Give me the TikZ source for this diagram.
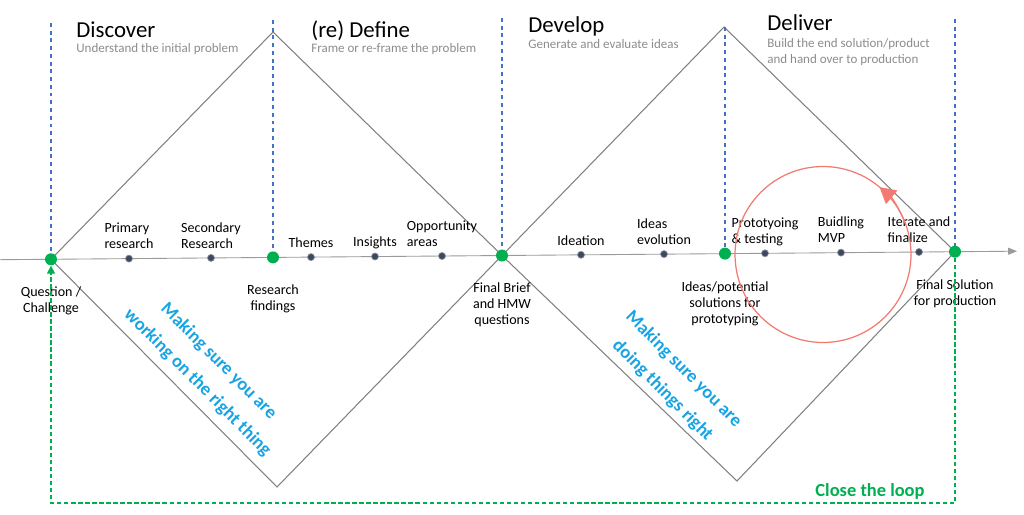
\documentclass[tikz,border=0pt]{standalone}
\usepackage{fontspec}
\setmainfont{Carlito}
\usetikzlibrary{positioning,arrows.meta}
\definecolor{ddgreen}{RGB}{0,176,80}
\definecolor{ddnavy}{RGB}{60,72,92}
\definecolor{ddblue}{RGB}{68,114,196}
\definecolor{ddcyan}{RGB}{24,164,228}
\definecolor{ddred}{RGB}{242,122,112}
\definecolor{ddgray}{RGB}{140,140,140}
\definecolor{ddline}{RGB}{128,128,128}

\begin{document}
\begin{tikzpicture}[
  x=0.02cm, y=-0.02cm,
  milestone/.style={circle,fill=ddgreen,inner sep=0pt,minimum size=2.4mm},
  stepdot/.style={circle,draw=ddnavy!60,fill=ddnavy,line width=0.4pt,inner sep=0pt,minimum size=1.4mm},
  toplabel/.style={align=left,inner sep=0pt,text depth=0pt,font=\fontsize{8}{9.1}\selectfont},
  botlabel/.style={align=center,inner sep=0pt,font=\fontsize{8}{9.1}\selectfont},
  phase/.style={anchor=base west,inner sep=0pt,font=\fontsize{13}{15}\selectfont},
  phasenote/.style={anchor=base west,align=left,inner sep=0pt,text=ddgray,font=\fontsize{7.4}{8.6}\selectfont},
  claim/.style={align=center,text=ddcyan,inner sep=0pt,font=\bfseries\fontsize{10.5}{13.5}\selectfont},
  guide/.style={ddblue,line width=0.6pt,dash pattern=on 2.2pt off 2.2pt},
  diamondline/.style={ddline,line width=0.6pt},
  axis/.style={ddline!80,line width=0.5pt},
  loopline/.style={ddgreen,line width=0.8pt,dash pattern=on 2.5pt off 1.5pt},
  cycleline/.style={ddred,line width=0.7pt}
]
  \useasboundingbox (0,0) rectangle (1024,514);

  \coordinate (pq) at (51,259.3);
  \coordinate (prf) at (273,257.4);
  \coordinate (pfb) at (502,255.5);
  \coordinate (pip) at (725,253.6);
  \coordinate (pfs) at (955,251.7);
  \coordinate (t1) at (273,32);
  \coordinate (b1) at (277,487);
  \coordinate (t2) at (724,27);
  \coordinate (b2) at (737,481);
  \coordinate (g1) at (51,23);
  \coordinate (g2) at (273,20);
  \coordinate (g3) at (502,18);
  \coordinate (g4) at (725,27);
  \coordinate (g5) at (955,19);
  \coordinate (axl) at (0,259.7);
  \coordinate (axr) at (1017,251.2);
  \coordinate (lr) at (955,503);
  \coordinate (ll) at (51,503);
  \coordinate (rc) at (823,254.5);

  \draw[diamondline] (pq) -- (t1) -- (pfb) -- (b1) -- cycle;
  \draw[diamondline] (pfb) -- (t2) -- (pfs) -- (b2) -- cycle;
  \draw[guide] (g1) -- (pq);
  \draw[guide] (g2) -- (prf);
  \draw[guide] (g3) -- (pfb);
  \draw[guide] (g4) -- (pip);
  \draw[guide] (g5) -- (pfs);
  \draw[axis,-{Triangle[length=5pt,width=4pt]}] (axl) -- (axr);

  \node[milestone] (q) at (pq) {};
  \node[milestone] (rf) at (prf) {};
  \node[milestone] (fb) at (pfb) {};
  \node[milestone] (ip) at (pip) {};
  \node[milestone] (fs) at (pfs) {};

  \node[stepdot] (pr) at (129,258.6) {};
  \node[stepdot] (sr) at (211,257.9) {};
  \node[stepdot] (th) at (311,257.1) {};
  \node[stepdot] (ins) at (375,256.5) {};
  \node[stepdot] (oa) at (442,256.0) {};
  \node[stepdot] (id) at (581,254.8) {};
  \node[stepdot] (ev) at (664,254.1) {};
  \node[stepdot] (pt) at (765,253.3) {};
  \node[stepdot] (mvp) at (841,252.6) {};
  \node[stepdot] (it) at (919,252.0) {};

  \node[toplabel, above=1.1mm of pr] (pr-l) {Primary\\research};
  \node[toplabel, above=1.1mm of sr] (sr-l) {Secondary\\Research};
  \node[toplabel, above=1.1mm of th] (th-l) {Themes};
  \node[toplabel, above=1.1mm of ins] (ins-l) {Insights};
  \node[toplabel, above=1.1mm of oa] (oa-l) {Opportunity\\areas};
  \node[toplabel, above=1.1mm of id] (id-l) {Ideation};
  \node[toplabel, above=1.1mm of ev] (ev-l) {Ideas\\evolution};
  \node[toplabel, above=1.1mm of pt] (pt-l) {Prototyoing\\\& testing};
  \node[toplabel, above=1.1mm of mvp] (mvp-l) {Buidling\\MVP};
  \node[toplabel, above=1.1mm of it] (it-l) {Iterate and\\finalize};

  \node[botlabel, below=4.2mm of q] (q-l) {Question /\\Challenge};
  \node[botlabel, below=4.2mm of rf] (rf-l) {Research\\findings};
  \node[botlabel, below=4.2mm of fb] (fb-l) {Final Brief\\and HMW\\questions};
  \node[botlabel, below=4.2mm of ip] (ip-l) {Ideas/potential\\solutions for\\prototyping};
  \node[botlabel, below=4.2mm of fs] (fs-l) {Final Solution\\for production};

  \node[phase] (disc) at (76,37) {Discover};
  \node[phasenote] (disc-n) at (76,52) {Understand the initial problem};
  \node[phase] (def) at (311,37) {(re) Define};
  \node[phasenote] (def-n) at (311,52) {Frame or re-frame the problem};
  \node[phase] (dev) at (528,32) {Develop};
  \node[phasenote] (dev-n) at (528,48) {Generate and evaluate ideas};
  \node[phase] (del) at (767,30) {Deliver};
  \node[phasenote] (del-n) at (767,63) {Build the end solution/product\\and hand over to production};

  \node[claim, rotate=-45] (c1) at (208,372) {Making sure you are\\[3.5pt]working on the right thing};
  \node[claim, rotate=-45] (c2) at (673,380) {Making sure you are\\[3.5pt]doing things right};

  \draw[cycleline] (rc) circle[radius=1.76cm];
  \draw[cycleline,-{Triangle[length=9pt,width=10pt]}] (rc) ++(20:1.76cm) arc[start angle=20,end angle=50,radius=1.76cm];

  \draw[loopline,-{Triangle[length=4.5pt,width=4.5pt]}] (fs) -- (lr) -- (ll) -- (q);
  \node[text=ddgreen,font=\bfseries\fontsize{10.5}{12}\selectfont,inner sep=0pt] (loop) at (870,491) {Close the loop};
\end{tikzpicture}
\end{document}
